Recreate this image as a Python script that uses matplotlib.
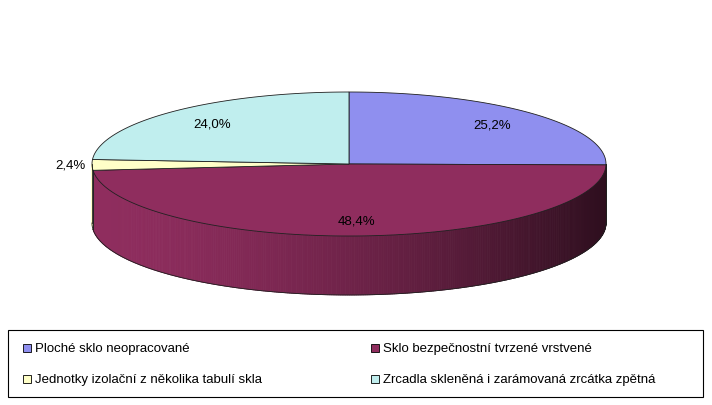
import numpy as np
import matplotlib
matplotlib.use("Agg")
import matplotlib.pyplot as plt
from matplotlib.patches import Polygon, Rectangle
from matplotlib.colors import to_rgb

labels = ["Ploché sklo neopracované", "Sklo bezpečnostní tvrzené vrstvené",
          "Jednotky izolační z několika tabulí skla", "Zrcadla skleněná i zarámovaná zrcátka zpětná"]
values = [25.2, 48.4, 2.4, 24.0]
pct_labels = ["25,2%", "48,4%", "2,4%", "24,0%"]
colors = ["#8f8fef", "#8f2d5e", "#ffffc8", "#c0eeee"]
label_r = [0.78, 0.79, 1.085, 0.78]

plt.rcParams['font.family'] = ['Liberation Sans', 'DejaVu Sans']
fig = plt.figure(figsize=(7.12, 4.06), dpi=100)
ax = fig.add_axes([0, 0, 1, 1])
ax.set_xlim(0, 712); ax.set_ylim(406, 0); ax.axis('off')

cx, cy, rx, ry, depth = 349, 165, 257, 72, 59
def pt(th):
    t = np.radians(th)
    return cx + rx*np.sin(t), cy - ry*np.cos(t)

total = sum(values)
angles = np.concatenate([[0], np.cumsum(values)/total*360])

# side faces
for i in range(len(values)):
    a1, a2 = max(angles[i], 90), min(angles[i+1], 270)
    if a2 <= a1: continue
    ths = np.linspace(a1, a2, max(2, int((a2-a1)*2)+1))
    base = np.array(to_rgb(colors[i]))
    for j in range(len(ths)-1):
        x1, y1 = pt(ths[j]); x2, y2 = pt(ths[j+1])
        t = ((x1+x2)/2 - (cx-rx)) / (2*rx)
        f = 1 - 0.68*t**1.6
        ax.add_patch(Polygon([(x1, y1), (x2, y2), (x2, y2+depth), (x1, y1+depth)],
                             closed=True, fc=base*f, ec=base*f, lw=0.6))
    # outline
    xs, ys = pt(ths)
    ax.plot(xs, ys+depth, color='#202020', lw=0.6)
    for a in (a1, a2):
        if a in (angles[i], angles[i+1]):
            x, y = pt(a); ax.plot([x, x], [y, y+depth], color='#202020', lw=0.6)
for a in (90, 270):
    x, y = pt(a); ax.plot([x, x], [y, y+depth], color='#202020', lw=0.6)

# tops
for i in range(len(values)):
    ths = np.linspace(angles[i], angles[i+1], 200)
    xs, ys = pt(ths)
    poly = [(cx, cy)] + list(zip(xs, ys))
    ax.add_patch(Polygon(poly, closed=True, fc=colors[i], ec='#202020', lw=0.6))
    mid = (angles[i]+angles[i+1])/2
    t = np.radians(mid)
    ax.text(cx + rx*np.sin(t)*label_r[i], cy - ry*np.cos(t)*label_r[i], pct_labels[i],
            ha='center', va='center', fontsize=9.5, color='black')

# legend
ax.add_patch(Rectangle((8, 331), 695, 67, fc='white', ec='black', lw=0.8))
pos = [(28, 349), (376, 349), (28, 380), (376, 380)]
for (x, y), lab, c in zip(pos, labels, colors):
    ax.add_patch(Rectangle((x-5, y-4), 8, 8, fc=c, ec='black', lw=0.6))
    ax.text(x+7, y, lab, ha='left', va='center', fontsize=9.5)

fig.savefig("out.png", dpi=100)
